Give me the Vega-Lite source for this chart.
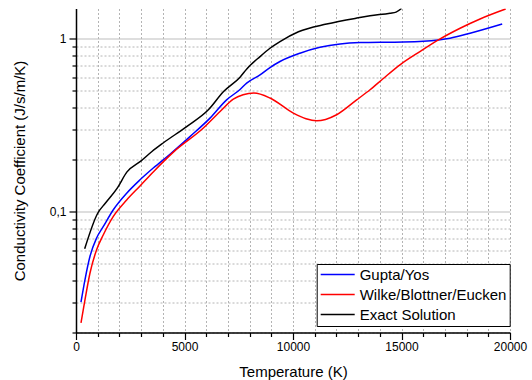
{
  "$schema": "https://vega.github.io/schema/vega-lite/v6.json",
  "width": 434,
  "height": 324,
  "autosize": {"type": "none"},
  "padding": {"left": 76, "top": 8.5, "right": 22, "bottom": 47.5},
  "config": {
    "view": {"stroke": null},
    "font": "Liberation Sans",
    "axis": {"labelFont": "Liberation Sans", "titleFont": "Liberation Sans", "labelFontSize": 12, "titleFontSize": 15, "titleFontWeight": "normal", "labelColor": "#000", "titleColor": "#000", "domainColor": "#000", "tickColor": "#000", "domainWidth": 1.5, "tickWidth": 1.2, "labelOverlap": false, "labelFlush": false, "gridOpacity": 1, "tickOpacity": 1},
    "legend": {"labelFont": "Liberation Sans"}
  },
  "data": {"values": [
    {"s": "Exact Solution", "T": 400, "k": 0.061},
    {"s": "Exact Solution", "T": 1000, "k": 0.098},
    {"s": "Exact Solution", "T": 1350, "k": 0.112},
    {"s": "Exact Solution", "T": 1900, "k": 0.137},
    {"s": "Exact Solution", "T": 2350, "k": 0.17},
    {"s": "Exact Solution", "T": 3000, "k": 0.197},
    {"s": "Exact Solution", "T": 3500, "k": 0.223},
    {"s": "Exact Solution", "T": 4000, "k": 0.249},
    {"s": "Exact Solution", "T": 5100, "k": 0.311},
    {"s": "Exact Solution", "T": 6100, "k": 0.389},
    {"s": "Exact Solution", "T": 6800, "k": 0.496},
    {"s": "Exact Solution", "T": 7560, "k": 0.601},
    {"s": "Exact Solution", "T": 7870, "k": 0.67},
    {"s": "Exact Solution", "T": 8480, "k": 0.79},
    {"s": "Exact Solution", "T": 8940, "k": 0.883},
    {"s": "Exact Solution", "T": 9400, "k": 0.965},
    {"s": "Exact Solution", "T": 10250, "k": 1.1},
    {"s": "Exact Solution", "T": 11550, "k": 1.22},
    {"s": "Exact Solution", "T": 12940, "k": 1.32},
    {"s": "Exact Solution", "T": 13550, "k": 1.36},
    {"s": "Exact Solution", "T": 14470, "k": 1.41},
    {"s": "Exact Solution", "T": 14750, "k": 1.43},
    {"s": "Exact Solution", "T": 15000, "k": 1.5},
    {"s": "Gupta/Yos", "T": 230, "k": 0.03},
    {"s": "Gupta/Yos", "T": 415, "k": 0.0405},
    {"s": "Gupta/Yos", "T": 645, "k": 0.0552},
    {"s": "Gupta/Yos", "T": 950, "k": 0.0705},
    {"s": "Gupta/Yos", "T": 1260, "k": 0.0822},
    {"s": "Gupta/Yos", "T": 1720, "k": 0.1027},
    {"s": "Gupta/Yos", "T": 2335, "k": 0.128},
    {"s": "Gupta/Yos", "T": 2950, "k": 0.153},
    {"s": "Gupta/Yos", "T": 3560, "k": 0.179},
    {"s": "Gupta/Yos", "T": 4330, "k": 0.215},
    {"s": "Gupta/Yos", "T": 5250, "k": 0.272},
    {"s": "Gupta/Yos", "T": 6175, "k": 0.348},
    {"s": "Gupta/Yos", "T": 6940, "k": 0.444},
    {"s": "Gupta/Yos", "T": 7560, "k": 0.51},
    {"s": "Gupta/Yos", "T": 7865, "k": 0.555},
    {"s": "Gupta/Yos", "T": 8480, "k": 0.619},
    {"s": "Gupta/Yos", "T": 8940, "k": 0.683},
    {"s": "Gupta/Yos", "T": 9400, "k": 0.74},
    {"s": "Gupta/Yos", "T": 10320, "k": 0.827},
    {"s": "Gupta/Yos", "T": 11240, "k": 0.895},
    {"s": "Gupta/Yos", "T": 12170, "k": 0.936},
    {"s": "Gupta/Yos", "T": 13090, "k": 0.952},
    {"s": "Gupta/Yos", "T": 14470, "k": 0.957},
    {"s": "Gupta/Yos", "T": 15080, "k": 0.959},
    {"s": "Gupta/Yos", "T": 16000, "k": 0.969},
    {"s": "Gupta/Yos", "T": 16700, "k": 0.987},
    {"s": "Gupta/Yos", "T": 17235, "k": 1.009},
    {"s": "Gupta/Yos", "T": 18160, "k": 1.079},
    {"s": "Gupta/Yos", "T": 19640, "k": 1.22},
    {"s": "Wilke/Blottner/Eucken", "T": 230, "k": 0.0227},
    {"s": "Wilke/Blottner/Eucken", "T": 415, "k": 0.031},
    {"s": "Wilke/Blottner/Eucken", "T": 645, "k": 0.0442},
    {"s": "Wilke/Blottner/Eucken", "T": 950, "k": 0.0603},
    {"s": "Wilke/Blottner/Eucken", "T": 1260, "k": 0.0736},
    {"s": "Wilke/Blottner/Eucken", "T": 1720, "k": 0.094},
    {"s": "Wilke/Blottner/Eucken", "T": 2335, "k": 0.117},
    {"s": "Wilke/Blottner/Eucken", "T": 2950, "k": 0.141},
    {"s": "Wilke/Blottner/Eucken", "T": 3560, "k": 0.17},
    {"s": "Wilke/Blottner/Eucken", "T": 4500, "k": 0.222},
    {"s": "Wilke/Blottner/Eucken", "T": 5870, "k": 0.305},
    {"s": "Wilke/Blottner/Eucken", "T": 6640, "k": 0.38},
    {"s": "Wilke/Blottner/Eucken", "T": 7250, "k": 0.448},
    {"s": "Wilke/Blottner/Eucken", "T": 7700, "k": 0.475},
    {"s": "Wilke/Blottner/Eucken", "T": 8200, "k": 0.486},
    {"s": "Wilke/Blottner/Eucken", "T": 8940, "k": 0.455},
    {"s": "Wilke/Blottner/Eucken", "T": 10015, "k": 0.372},
    {"s": "Wilke/Blottner/Eucken", "T": 10600, "k": 0.345},
    {"s": "Wilke/Blottner/Eucken", "T": 11090, "k": 0.336},
    {"s": "Wilke/Blottner/Eucken", "T": 11500, "k": 0.342},
    {"s": "Wilke/Blottner/Eucken", "T": 12010, "k": 0.364},
    {"s": "Wilke/Blottner/Eucken", "T": 12935, "k": 0.444},
    {"s": "Wilke/Blottner/Eucken", "T": 13550, "k": 0.508},
    {"s": "Wilke/Blottner/Eucken", "T": 14160, "k": 0.59},
    {"s": "Wilke/Blottner/Eucken", "T": 14930, "k": 0.708},
    {"s": "Wilke/Blottner/Eucken", "T": 15850, "k": 0.845},
    {"s": "Wilke/Blottner/Eucken", "T": 16700, "k": 0.987},
    {"s": "Wilke/Blottner/Eucken", "T": 17700, "k": 1.153},
    {"s": "Wilke/Blottner/Eucken", "T": 18620, "k": 1.305},
    {"s": "Wilke/Blottner/Eucken", "T": 19800, "k": 1.49}
  ]},
  "mark": {"type": "line", "strokeWidth": 1.5, "clip": true, "interpolate": "monotone"},
  "encoding": {
    "x": {"field": "T", "type": "quantitative", "scale": {"domain": [0, 20000], "nice": false},
      "axis": {"orient": "bottom",
        "values": [0,1000,2000,3000,4000,5000,6000,7000,8000,9000,10000,11000,12000,13000,14000,15000,16000,17000,18000,19000,20000],
        "format": "d",
        "labelExpr": "datum.value % 5000 == 0 ? datum.label : ''",
        "title": "Temperature (K)",
        "tickSize": {"condition": {"test": "datum.value % 5000 == 0", "value": 7}, "value": 4},
        "labelPadding": 2, "titlePadding": 12,
        "grid": true, "gridColor": "#b4b4b4", "gridDash": [2, 2], "gridWidth": 1}},
    "y": {"field": "k", "type": "quantitative", "scale": {"type": "log", "domain": [0.02, 1.5], "nice": false},
      "axis": {"orient": "left",
        "values": [0.02,0.03,0.04,0.05,0.06,0.07,0.08,0.09,0.1,0.2,0.3,0.4,0.5,0.6,0.7,0.8,0.9,1],
        "labelExpr": "datum.value == 0.1 ? '0,1' : (datum.value == 1 ? '1' : '')",
        "title": "Conductivity Coefficient (J/s/m/K)",
        "tickSize": {"condition": {"test": "datum.value == 0.1 || datum.value == 1", "value": 7}, "value": 4},
        "labelPadding": 3, "titlePadding": 22,
        "grid": true,
        "gridColor": {"condition": {"test": "datum.value == 0.1 || datum.value == 1", "value": "#bdbdbd"}, "value": "#b4b4b4"},
        "gridDash": {"condition": {"test": "datum.value == 0.1 || datum.value == 1", "value": []}, "value": [2, 2]},
        "gridWidth": 1}},
    "color": {"field": "s", "type": "nominal",
      "scale": {"domain": ["Gupta/Yos", "Wilke/Blottner/Eucken", "Exact Solution"], "range": ["#0000ff", "#ff0000", "#000000"]},
      "legend": {"title": null, "orient": "none", "legendX": 240.7, "legendY": 255.5, "symbolType": "stroke", "symbolSize": 1156, "symbolStrokeWidth": 1.5, "clipHeight": 15, "labelFontSize": 15, "labelOffset": 4, "rowPadding": 4, "padding": 3, "strokeColor": "#000", "fillColor": "#fff", "labelColor": "#000"}}
  }
}
